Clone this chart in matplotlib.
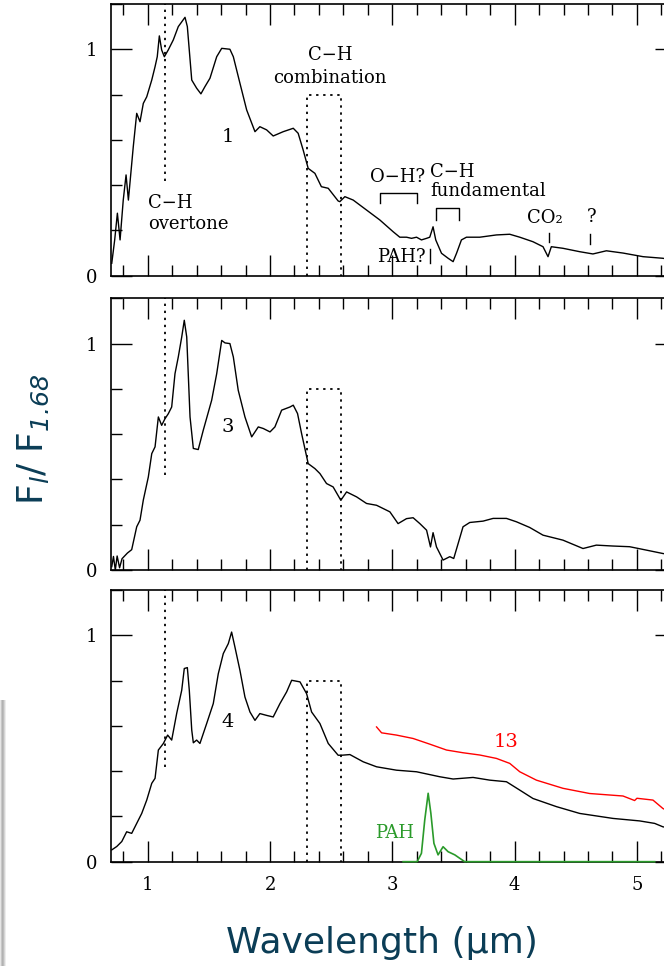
import matplotlib.pyplot as plt
from matplotlib.ticker import MultipleLocator, FixedLocator
from matplotlib.patches import Rectangle

# ---- data (wavelength in micron, normalised flux) ----
wl_1 = [0.706, 0.73, 0.752, 0.774, 0.80, 0.823, 0.842, 0.882, 0.91, 0.937, 0.964, 0.992,
        1.033, 1.06, 1.078, 1.095, 1.114, 1.136, 1.168, 1.209, 1.25, 1.305, 1.324, 1.36,
        1.40, 1.435, 1.468, 1.509, 1.564, 1.605, 1.672, 1.70, 1.754, 1.809, 1.877, 1.917,
        1.972, 2.026, 2.108, 2.19, 2.23, 2.271, 2.312, 2.367, 2.42, 2.476, 2.557, 2.571,
        2.612, 2.68, 2.789, 2.898, 3.007, 3.061, 3.116, 3.157, 3.198, 3.238, 3.28, 3.306,
        3.333, 3.355, 3.402, 3.456, 3.497, 3.525, 3.565, 3.606, 3.715, 3.851, 3.96, 4.042,
        4.15, 4.232, 4.273, 4.30, 4.395, 4.532, 4.64, 4.75, 4.886, 5.05, 5.21, 5.3]
flux_1 = [0.055, 0.158, 0.276, 0.158, 0.334, 0.445, 0.334, 0.57, 0.717, 0.68, 0.761, 0.79,
          0.864, 0.923, 0.967, 1.059, 0.997, 0.967, 0.997, 1.041, 1.10, 1.141, 1.10, 0.864,
          0.828, 0.803, 0.835, 0.872, 0.967, 1.004, 1.00, 0.967, 0.85, 0.732, 0.636, 0.658,
          0.644, 0.617, 0.636, 0.651, 0.629, 0.555, 0.474, 0.452, 0.393, 0.386, 0.33, 0.327,
          0.349, 0.334, 0.29, 0.246, 0.194, 0.17, 0.17, 0.165, 0.17, 0.158, 0.165, 0.17,
          0.216, 0.158, 0.099, 0.077, 0.062, 0.099, 0.158, 0.17, 0.17, 0.18, 0.183, 0.17,
          0.15, 0.128, 0.084, 0.128, 0.121, 0.106, 0.096, 0.11, 0.10, 0.084, 0.077, 0.07]

wl_3 = [0.706, 0.72, 0.735, 0.75, 0.77, 0.79, 0.834, 0.869, 0.91, 0.937, 0.964, 1.005,
        1.033, 1.06, 1.087, 1.114, 1.141, 1.168, 1.196, 1.223, 1.25, 1.278, 1.299, 1.319,
        1.346, 1.373, 1.413, 1.454, 1.523, 1.564, 1.605, 1.632, 1.672, 1.70, 1.74, 1.795,
        1.85, 1.904, 1.945, 2.0, 2.04, 2.095, 2.163, 2.19, 2.225, 2.258, 2.312, 2.367,
        2.408, 2.462, 2.516, 2.579, 2.626, 2.708, 2.789, 2.871, 2.98, 3.047, 3.116, 3.17,
        3.225, 3.28, 3.312, 3.333, 3.361, 3.415, 3.47, 3.502, 3.538, 3.578, 3.633, 3.742,
        3.824, 3.933, 4.015, 4.123, 4.232, 4.395, 4.559, 4.668, 4.804, 4.94, 5.077, 5.212, 5.3]
flux_3 = [0.015, 0.06, 0.0, 0.062, 0.01, 0.05, 0.075, 0.09, 0.191, 0.22, 0.309, 0.411,
          0.514, 0.544, 0.676, 0.639, 0.668, 0.69, 0.72, 0.867, 0.941, 1.029, 1.103, 1.029,
          0.676, 0.537, 0.532, 0.617, 0.75, 0.867, 1.014, 1.003, 1.0, 0.941, 0.794, 0.676,
          0.588, 0.632, 0.625, 0.61, 0.632, 0.706, 0.72, 0.728, 0.691, 0.603, 0.47, 0.448,
          0.426, 0.382, 0.367, 0.308, 0.345, 0.323, 0.294, 0.286, 0.257, 0.205, 0.227, 0.231,
          0.205, 0.176, 0.102, 0.165, 0.102, 0.044, 0.059, 0.051, 0.117, 0.191, 0.21, 0.216,
          0.228, 0.228, 0.213, 0.188, 0.154, 0.132, 0.095, 0.11, 0.106, 0.103, 0.088, 0.073, 0.065]

wl_4 = [0.706, 0.747, 0.788, 0.828, 0.869, 0.91, 0.951, 0.992, 1.033, 1.06, 1.087, 1.128,
        1.163, 1.196, 1.237, 1.278, 1.299, 1.324, 1.34, 1.36, 1.373, 1.40, 1.427, 1.482,
        1.536, 1.577, 1.618, 1.659, 1.686, 1.713, 1.754, 1.795, 1.836, 1.877, 1.917, 1.972,
        2.026, 2.081, 2.136, 2.177, 2.245, 2.299, 2.34, 2.408, 2.476, 2.557, 2.585, 2.653,
        2.762, 2.871, 3.034, 3.198, 3.388, 3.497, 3.66, 3.797, 3.933, 4.042, 4.15, 4.342,
        4.532, 4.804, 5.022, 5.145, 5.212, 5.3]
flux_4 = [0.052, 0.067, 0.089, 0.132, 0.125, 0.169, 0.213, 0.272, 0.346, 0.368, 0.493, 0.522,
          0.559, 0.537, 0.655, 0.757, 0.853, 0.857, 0.757, 0.581, 0.525, 0.537, 0.522, 0.61,
          0.698, 0.83, 0.919, 0.963, 1.014, 0.948, 0.845, 0.727, 0.661, 0.624, 0.654, 0.646,
          0.639, 0.698, 0.75, 0.801, 0.794, 0.742, 0.661, 0.61, 0.522, 0.47, 0.47, 0.473,
          0.441, 0.419, 0.404, 0.397, 0.375, 0.365, 0.372, 0.36, 0.353, 0.316, 0.279, 0.243,
          0.213, 0.191, 0.18, 0.169, 0.154, 0.145]

wl_13 = [2.871, 2.912, 3.034, 3.17, 3.306, 3.443, 3.578, 3.715, 3.851, 3.96, 4.042, 4.178,
         4.395, 4.613, 4.886, 4.981, 5.0, 5.131, 5.212, 5.3]
flux_13 = [0.595, 0.569, 0.559, 0.544, 0.519, 0.493, 0.481, 0.471, 0.456, 0.434, 0.397, 0.36,
           0.324, 0.301, 0.29, 0.27, 0.28, 0.272, 0.235, 0.21]

wl_pah = [3.088, 3.203, 3.238, 3.265, 3.293, 3.315, 3.34, 3.374, 3.415, 3.456, 3.511, 3.551,
          3.592, 5.145]
flux_pah = [0.0, 0.0, 0.037, 0.184, 0.302, 0.214, 0.081, 0.03, 0.066, 0.044, 0.03, 0.015,
            0.0, 0.0]

panel_labels = ['1', '3', '4']
label_y = [0.612, 0.632, 0.618]

teal = '#0b3d56'
serif = 'DejaVu Serif'

# math subscripts in the y label are oblique (digits too)
plt.rcParams['mathtext.fontset'] = 'custom'
plt.rcParams['mathtext.rm'] = 'DejaVu Sans:oblique'
plt.rcParams['mathtext.it'] = 'DejaVu Sans:oblique'

fig = plt.figure(figsize=(6.64, 9.66), dpi=100)

# grey shadow strip at the lower left (slide artefact)
for i, a in enumerate([0.10, 0.22, 0.30, 0.26, 0.16, 0.07]):
    fig.patches.append(Rectangle((i / 664, 0), 1.3 / 664, 266 / 966, transform=fig.transFigure,
                                 facecolor='black', alpha=a, edgecolor='none'))

bottoms = [0.7146, 0.4099, 0.1080]
axes = []
for b in bottoms:
    ax = fig.add_axes([0.1672, b, 0.851, 0.2813])
    ax.set_xlim(0.7, 5.32)
    ax.set_ylim(0, 1.2)
    ax.xaxis.set_major_locator(FixedLocator([1, 2, 3, 4, 5]))
    ax.xaxis.set_minor_locator(MultipleLocator(0.2))
    ax.yaxis.set_major_locator(FixedLocator([0, 1]))
    ax.yaxis.set_minor_locator(MultipleLocator(0.2))
    ax.tick_params(which='both', direction='in', top=True, right=True, width=1.0)
    ax.tick_params(which='major', length=15, pad=10, labelsize=13)
    ax.tick_params(which='minor', length=8)
    for lab in ax.get_yticklabels() + ax.get_xticklabels():
        lab.set_family(serif)
    for s in ax.spines.values():
        s.set_linewidth(1.2)
    # C-H overtone line and C-H combination box
    ax.plot([1.14, 1.14], [0.42, 1.2], color='black', ls=(0, (1.3, 2.6)), lw=1.3)
    ax.plot([2.30, 2.30, 2.58, 2.58], [0, 0.8, 0.8, 0], color='black', ls=(0, (1.3, 2.6)), lw=1.3)
    axes.append(ax)

ax1, ax2, ax3 = axes
ax1.tick_params(labelbottom=False)
ax2.tick_params(labelbottom=False)

ax1.plot(wl_1, flux_1, color='black', lw=1.0)
ax2.plot(wl_3, flux_3, color='black', lw=1.0)
ax3.plot(wl_4, flux_4, color='black', lw=1.0)
ax3.plot(wl_13, flux_13, color='red', lw=1.0)
ax3.plot(wl_pah, flux_pah, color='#2a9a2a', lw=1.2, zorder=3, clip_on=False)

for ax, t, y in zip(axes, panel_labels, label_y):
    ax.text(1.656, y, t, fontsize=14, family=serif, ha='center', va='center')

# annotations in the top panel
fs = 13
ax1.text(1.0, 0.32, 'C\u2212H', fontsize=fs, family=serif, ha='left', va='center')
ax1.text(1.0, 0.23, 'overtone', fontsize=fs, family=serif, ha='left', va='center')
ax1.text(2.49, 0.975, 'C\u2212H', fontsize=fs, family=serif, ha='center', va='center')
ax1.text(2.49, 0.873, 'combination', fontsize=fs, family=serif, ha='center', va='center')
ax1.text(3.04, 0.437, 'O\u2212H?', fontsize=fs, family=serif, ha='center', va='center')
ax1.plot([2.90, 2.90, 3.20, 3.20], [0.322, 0.367, 0.367, 0.322], color='black', lw=1.0)
ax1.text(3.31, 0.46, 'C\u2212H', fontsize=fs, family=serif, ha='left', va='center')
ax1.text(3.31, 0.375, 'fundamental', fontsize=fs, family=serif, ha='left', va='center')
ax1.plot([3.357, 3.357, 3.546, 3.546], [0.246, 0.298, 0.298, 0.246], color='black', lw=1.0)
ax1.text(3.075, 0.084, 'PAH?', fontsize=fs, family=serif, ha='center', va='center')
ax1.plot([3.31, 3.31], [0.055, 0.12], color='black', lw=1.0)
ax1.text(4.25, 0.255, 'CO\u2082', fontsize=fs, family=serif, ha='center', va='center')
ax1.plot([4.28, 4.28], [0.15, 0.188], color='black', lw=1.0)
ax1.text(4.63, 0.26, '?', fontsize=fs, family=serif, ha='center', va='center')
ax1.plot([4.62, 4.62], [0.14, 0.185], color='black', lw=1.0)

ax3.text(3.93, 0.53, '13', fontsize=14, family=serif, color='red', ha='center', va='center')
ax3.text(3.02, 0.125, 'PAH', fontsize=fs, family=serif, color='#2a9a2a', ha='center', va='center')

fig.text(0.0497, 0.545, r'F$_{l}$/ F$_{1.68}$', rotation=90, fontsize=26,
         color=teal, ha='center', va='center')
fig.text(0.575, 0.024, 'Wavelength (\u03bcm)', fontsize=26, color=teal, ha='center', va='center')

fig.savefig('out.png', dpi=100)
